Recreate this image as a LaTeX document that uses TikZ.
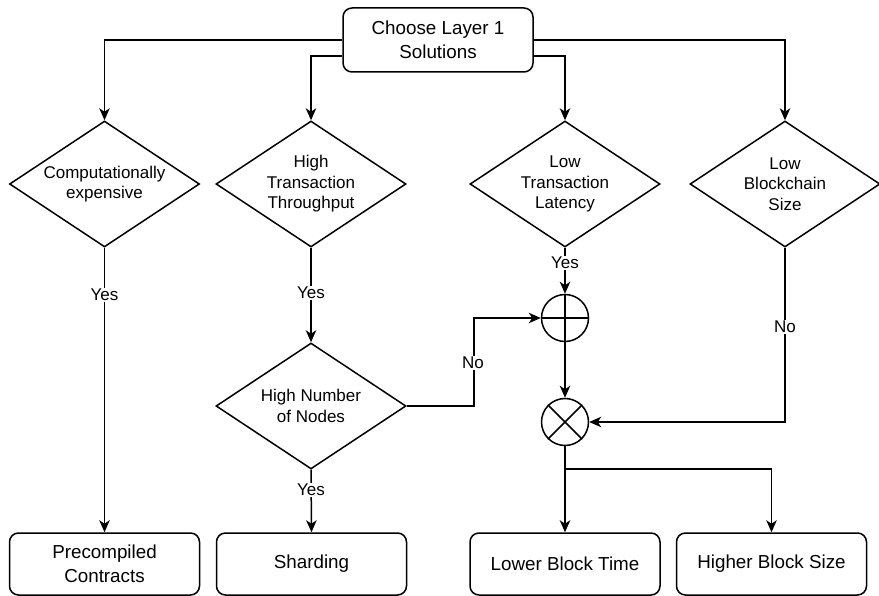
\documentclass[tikz,border=0pt]{standalone}
\usepackage{fontspec}
\setmainfont{Liberation Sans}
\usetikzlibrary{arrows.meta,shapes.geometric}
\begin{document}
\begin{tikzpicture}[x=1pt,y=-1pt,
  every node/.style={font=\fontsize{17}{20.5}\selectfont, align=center},
  line/.style={line width=1.5pt, draw=black},
  flow/.style={line, -{Stealth[length=12pt,width=10.5pt,inset=3.5pt]}},
  box/.style={line, rectangle, rounded corners=9pt, minimum width=190pt, minimum height=62pt, inner sep=0pt,
    font=\fontsize{18.8}{23.5}\selectfont},
  decision/.style={line, diamond, aspect=1.508, minimum width=190pt, minimum height=126pt, inner sep=0pt},
  junction/.style={line, circle, minimum size=47pt, inner sep=0pt},
  lbl/.style={fill=white, inner sep=1.5pt}
]
\useasboundingbox (0,0) rectangle (879,596);

% start box
\node[box, minimum height=64pt] (top) at (438,40) {Choose Layer 1\\Solutions};

% first row of decisions
\node[decision] (d1) at (104.5,184) {Computationally\\expensive};
\node[decision] (d2) at (311,184) {High\\Transaction\\Throughput};
\node[decision] (d3) at (565,184) {Low\\Transaction\\Latency};
\node[decision] (d4) at (785,184) {Low\\Blockchain\\Size};

% second-level decision
\node[decision] (d5) at (311,406) {High Number\\of Nodes};

% junctions
\node[junction] (op) at (565,318) {};
\node[junction] (ot) at (565,422) {};
\draw[line] (op.north) -- (op.south) (op.west) -- (op.east);
\draw[line] (ot.north east) -- (ot.south west) (ot.north west) -- (ot.south east);

% outcomes
\node[box] (b1) at (104.5,564) {Precompiled\\Contracts};
\node[box] (b2) at (311.5,564) {Sharding};
\node[box] (b3) at (565,564) {Lower Block Time};
\node[box] (b4) at (771.5,564) {Higher Block Size};

% from the start box
\draw[flow] (top.west) -| (d1.north);
\draw[flow] ([yshift=-16pt]top.west) -| (d2.north);
\draw[flow] (top.east) -| (d4.north);
\draw[flow] ([yshift=-16pt]top.east) -| (d3.north);

% decision branches
\draw[flow] (d1.south) -- (b1.north);
\draw[flow] (d2.south) -- (d5.north);
\draw[flow] (d3.south) -- (op.north);
\draw[flow] (d5.south) -- (b2.north);
\draw[flow] (d5.east) -- ++(67,0) |- (op.west);
\draw[flow] (d4.south) |- (ot.east);
\draw[flow] (op.south) -- (ot.north);
\draw[flow] (ot.south) -- (b3.north);
\coordinate (br) at (565,469);
\draw[flow] (br) -| (b4.north);

% edge labels
\node[lbl] at (104.5,295) {Yes};
\node[lbl] at (311,293) {Yes};
\node[lbl] at (565,263) {Yes};
\node[lbl] at (311,490) {Yes};
\node[lbl] at (473,363) {No};
\node[lbl] at (785,327) {No};
\end{tikzpicture}
\end{document}
